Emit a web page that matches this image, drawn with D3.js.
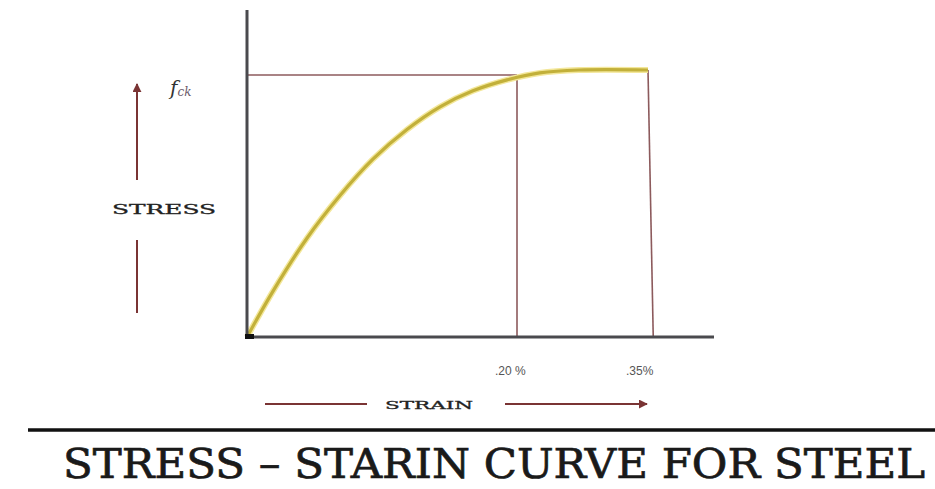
<!DOCTYPE html>
<html>
<head>
<meta charset="utf-8">
<script src="https://cdn.jsdelivr.net/npm/d3@7"></script>
<style>
  body { margin: 0; background: #fff; }
  svg { display: block; }
</style>
</head>
<body>
<div id="chart"></div>
<script>
'use strict';

// strain in %, stress as a fraction of fck
var strain = [0, 0.0193, 0.0444, 0.0689, 0.0933, 0.1185, 0.143, 0.1674, 0.1926, 0.226, 0.271, 0.35];
var stress = [0, 0.172, 0.370, 0.530, 0.666, 0.777, 0.862, 0.922, 0.963, 0.989, 1.0, 1.0];

var tickStrain = [0.20, 0.35];
var tickLabels = ['.20 %', '.35%'];
var fckLevel = 0.981;
var dropEnd = 0.356;

var width = 935, height = 489;

var svg = d3.select('#chart').append('svg')
  .attr('width', width)
  .attr('height', height);

// strain axis is drawn out of proportion in the sketch, hence the piecewise scale
var x = d3.scaleLinear().domain([0, 0.20, 0.35]).range([247, 517, 648]);
var y = d3.scaleLinear().domain([0, 1]).range([337, 70]);

var defs = svg.append('defs');
defs.append('marker')
  .attr('id', 'head')
  .attr('viewBox', '0 0 10 10')
  .attr('refX', 9).attr('refY', 5)
  .attr('markerWidth', 4.5).attr('markerHeight', 4.5)
  .attr('orient', 'auto')
  .append('path')
  .attr('d', 'M0,0 L10,5 L0,10 Z')
  .attr('fill', '#7a3434');

var red = '#8c5a5c';

// fck level line
svg.append('line')
  .attr('x1', x(0)).attr('x2', x(tickStrain[0]))
  .attr('y1', y(fckLevel)).attr('y2', y(fckLevel))
  .attr('stroke', red).attr('stroke-width', 1.6);

// vertical line at .20 %
svg.append('line')
  .attr('x1', x(tickStrain[0])).attr('x2', x(tickStrain[0]))
  .attr('y1', y(0)).attr('y2', y(0.97))
  .attr('stroke', red).attr('stroke-width', 1.6);

// drop at .35 %
svg.append('line')
  .attr('x1', x(tickStrain[1])).attr('x2', x(dropEnd))
  .attr('y1', y(1)).attr('y2', y(0))
  .attr('stroke', red).attr('stroke-width', 1.6);

// the curve
var line = d3.line()
  .x(function(d) { return x(d[0]); })
  .y(function(d) { return y(d[1]); })
  .curve(d3.curveCatmullRom.alpha(0.5));

var pts = strain.map(function(s, i) { return [s, stress[i]]; });

svg.append('path')
  .datum(pts)
  .attr('d', line)
  .attr('fill', 'none')
  .attr('stroke', '#f3e79a')
  .attr('stroke-width', 6);

svg.append('path')
  .datum(pts)
  .attr('d', line)
  .attr('fill', 'none')
  .attr('stroke', '#c2b03a')
  .attr('stroke-width', 3.2);

// axes
svg.append('line')
  .attr('x1', 247).attr('x2', 247)
  .attr('y1', 10).attr('y2', y(0) + 1.5)
  .attr('stroke', '#4a4a4e').attr('stroke-width', 3);

svg.append('line')
  .attr('x1', 246).attr('x2', 714)
  .attr('y1', y(0)).attr('y2', y(0))
  .attr('stroke', '#4a4a4e').attr('stroke-width', 3);

svg.append('rect')
  .attr('x', 245).attr('y', y(0) - 3)
  .attr('width', 9).attr('height', 5)
  .attr('fill', '#111');

// tick labels
svg.selectAll('text.tick')
  .data(tickStrain)
  .enter().append('text')
  .attr('class', 'tick')
  .attr('x', function(d) { return x(d) - 22; })
  .attr('y', 375)
  .attr('font-family', 'Liberation Sans, sans-serif')
  .attr('font-size', 12)
  .attr('fill', '#555')
  .text(function(d, i) { return tickLabels[i]; });

// stress arrow + label
var arrowCol = '#7a3434';
svg.append('line')
  .attr('x1', 137).attr('x2', 137)
  .attr('y1', 180).attr('y2', 84)
  .attr('stroke', arrowCol).attr('stroke-width', 2)
  .attr('marker-end', 'url(#head)');
svg.append('line')
  .attr('x1', 137).attr('x2', 137)
  .attr('y1', 240).attr('y2', 313)
  .attr('stroke', arrowCol).attr('stroke-width', 2);

svg.append('text')
  .attr('x', 164).attr('y', 214)
  .attr('text-anchor', 'middle')
  .attr('font-family', 'DejaVu Serif, serif')
  .attr('font-size', 13)
  .attr('fill', '#222')
  .attr('stroke', '#222').attr('stroke-width', 0.3)
  .attr('textLength', 104)
  .attr('lengthAdjust', 'spacingAndGlyphs')
  .text('STRESS');

var fck = svg.append('text')
  .attr('x', 170).attr('y', 95)
  .attr('font-family', 'DejaVu Serif, serif')
  .attr('font-style', 'italic')
  .attr('font-size', 20)
  .attr('fill', '#333');
fck.append('tspan').text('f');
fck.append('tspan').attr('font-size', 12).attr('dy', 1).attr('fill', '#6a5a6a').text('ck');

// strain arrow + label
svg.append('line')
  .attr('x1', 265).attr('x2', 367)
  .attr('y1', 404).attr('y2', 404)
  .attr('stroke', arrowCol).attr('stroke-width', 2);
svg.append('line')
  .attr('x1', 505).attr('x2', 647)
  .attr('y1', 404).attr('y2', 404)
  .attr('stroke', arrowCol).attr('stroke-width', 2)
  .attr('marker-end', 'url(#head)');

svg.append('text')
  .attr('x', 429).attr('y', 409)
  .attr('text-anchor', 'middle')
  .attr('font-family', 'DejaVu Serif, serif')
  .attr('font-size', 11)
  .attr('fill', '#222')
  .attr('stroke', '#222').attr('stroke-width', 0.3)
  .attr('textLength', 88)
  .attr('lengthAdjust', 'spacingAndGlyphs')
  .text('STRAIN');

// title rule + title
svg.append('line')
  .attr('x1', 28).attr('x2', width)
  .attr('y1', 430).attr('y2', 430)
  .attr('stroke', '#111').attr('stroke-width', 3.5);

svg.append('text')
  .attr('x', 63).attr('y', 478)
  .attr('font-family', 'DejaVu Serif, serif')
  .attr('font-size', 41)
  .attr('fill', '#1a1a1a')
  .attr('stroke', '#1a1a1a').attr('stroke-width', 0.7)
  .attr('textLength', 862)
  .attr('lengthAdjust', 'spacingAndGlyphs')
  .text('STRESS \u2013 STARIN CURVE FOR STEEL');
</script>
</body>
</html>
